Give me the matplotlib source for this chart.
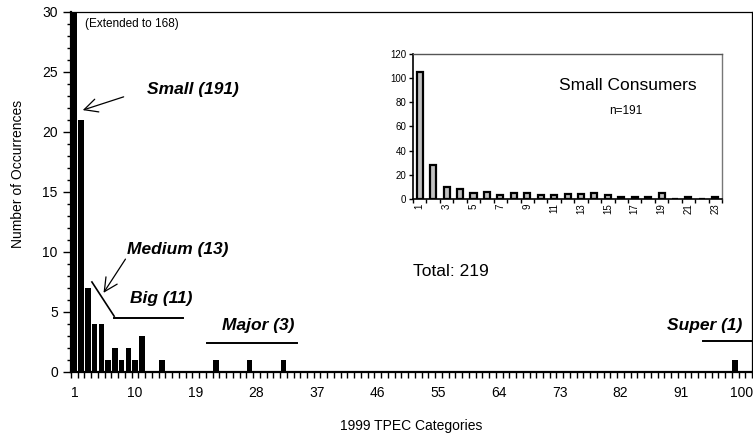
import numpy as np
import matplotlib
matplotlib.use("Agg")
import matplotlib.pyplot as plt

plt.rcParams['font.family'] = ['Liberation Sans', 'DejaVu Sans']

# main chart: TPEC categories 1..101, only the non-empty ones listed
n_categories = 101
used_cats = [1, 2, 3, 4, 5, 6, 7, 8, 9, 10, 11, 14, 22, 27, 32, 99]
used_counts = [168, 21, 7, 4, 4, 1, 2, 1, 2, 1, 3, 1, 1, 1, 1, 1]
x_labels = [1, 10, 19, 28, 37, 46, 55, 64, 73, 82, 91, 100]

# inset: small consumers
small_cats = list(range(1, 24))
small_counts = [105, 28, 10, 8, 5, 6, 3, 5, 5, 3, 3, 4, 4, 5, 3, 2, 2, 2, 5, 0, 2, 0, 2]

cats = np.arange(1, n_categories + 1)
counts = np.zeros(n_categories)
counts[np.array(used_cats) - 1] = used_counts

fig = plt.figure(figsize=(7.53, 4.34), dpi=100)
ax = fig.add_axes([0.0943, 0.1429, 0.9044, 0.8295])

ax.bar(cats, counts, width=0.8, color='black', edgecolor='none')
ax.set_xlim(0.5, n_categories + 0.5)
ax.set_ylim(0, 30)

# ticks: labels every 9 categories, tick marks at category boundaries
ax.set_xticks(x_labels)
ax.set_xticklabels([str(v) for v in x_labels], fontsize=10)
ax.set_xticks(np.arange(0.5, n_categories + 1, 1), minor=True)
ax.tick_params(axis='x', which='major', length=0, pad=10)
ax.tick_params(axis='x', which='minor', length=4, width=1, direction='out')
ax.set_yticks(np.arange(0, 31, 5))
ax.set_yticks(np.arange(0, 31, 1), minor=True)
ax.tick_params(axis='y', which='major', length=6, width=1, direction='out', labelsize=10)
ax.tick_params(axis='y', which='minor', length=3, width=1, direction='out')

for side in ['left', 'bottom']:
    ax.spines[side].set_linewidth(1.6)
for side in ['top', 'right']:
    ax.spines[side].set_linewidth(0.9)

ax.set_xlabel('1999 TPEC Categories', fontsize=10, labelpad=14)
ax.set_ylabel('Number of Occurrences', fontsize=10)
ax.yaxis.set_label_coords(-0.068, 0.55)

# annotations
ax.text(2.6, 29.0, '(Extended to 168)', fontsize=8.5, va='center')
bi = dict(fontsize=12.5, fontweight='bold', fontstyle='italic', va='center')
arrow = dict(arrowstyle='->', lw=0.9, color='black', mutation_scale=24)
ax.annotate('', xy=(1.85, 21.75), xytext=(8.7, 23.0), arrowprops=arrow)
ax.text(11.8, 23.5, 'Small (191)', **bi)
ax.annotate('', xy=(5.1, 6.4), xytext=(8.8, 9.6), arrowprops=arrow)
ax.text(8.8, 10.2, 'Medium (13)', **bi)
ax.plot([3.6, 6.9], [7.5, 4.65], color='black', lw=1.2)
ax.text(9.3, 6.15, 'Big (11)', **bi)
ax.plot([6.9, 17.1], [4.5, 4.5], color='black', lw=1.4)
ax.text(22.9, 3.9, 'Major (3)', **bi)
ax.plot([20.7, 34.0], [2.42, 2.42], color='black', lw=1.4)
ax.text(100.0, 3.9, 'Super (1)', ha='right', **bi)
ax.plot([94.2, 101.5], [2.58, 2.58], color='black', lw=1.4, clip_on=False)
ax.text(51.2, 8.4, 'Total: 219', fontsize=12.5, va='center')

# inset chart
ins = fig.add_axes([0.5485, 0.5415, 0.4104, 0.3341])
ins.bar(small_cats, small_counts, width=0.45, color='#c0c0c0', edgecolor='black', linewidth=1.6)
ins.set_xlim(0.5, len(small_cats) + 0.5)
ins.set_ylim(0, 120)
ins.set_yticks(np.arange(0, 121, 20))
ins.set_xticks(small_cats[::2])
ins.set_xticklabels([str(c) for c in small_cats[::2]], rotation=90, fontsize=7)
ins.set_xticks(np.arange(0.5, len(small_cats) + 1, 1), minor=True)
ins.tick_params(axis='x', which='major', length=0, pad=3)
ins.tick_params(axis='x', which='minor', length=3, width=1, direction='out')
ins.tick_params(axis='y', which='major', length=3, width=1, direction='out', labelsize=7, pad=2)
ins.spines['left'].set_linewidth(1.2)
ins.spines['bottom'].set_linewidth(1.2)
ins.spines['top'].set_color('#555555')
ins.spines['top'].set_linewidth(1.0)
ins.spines['right'].set_color('#777777')
ins.spines['right'].set_linewidth(1.0)
ins.text(0.695, 0.78, 'Small Consumers', transform=ins.transAxes, fontsize=12.5,
         ha='center', va='center')
ins.text(0.69, 0.61, 'n=191', transform=ins.transAxes, fontsize=8.5,
         ha='center', va='center')

fig.savefig('out.png', dpi=100)
